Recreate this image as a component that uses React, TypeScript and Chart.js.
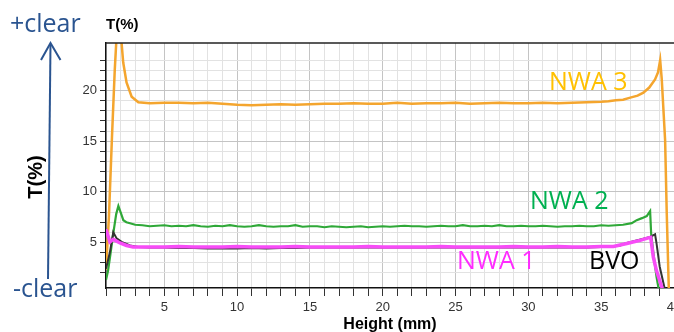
import React, { useEffect, useRef } from "react";
import { Chart, registerables } from "chart.js";

Chart.register(...registerables);

// ---- Data ----
const xTickLabels = [5, 10, 15, 20, 25, 30, 35, 40];
const yTickLabels = [5, 10, 15, 20];

const nwa3X = [1.0, 1.2, 1.41, 1.6, 1.75, 1.9, 2.07, 2.18, 2.41, 2.76, 3.22, 4, 5, 6, 7, 8, 9, 10, 11, 12, 13, 14, 15, 16, 17, 18, 19, 20, 21, 22, 23, 24, 25, 26, 27, 28, 29, 30, 31, 32, 33, 34, 35, 35.5, 36, 36.5, 37, 37.5, 37.9, 38.3, 38.7, 38.9, 39.05, 39.16, 39.39, 39.5, 39.65];
const nwa3Y = [2.3, 7.5, 15.4, 22.0, 26.0, 26.4, 24.7, 22.8, 20.8, 19.4, 18.85, 18.75, 18.8, 18.8, 18.75, 18.8, 18.7, 18.6, 18.55, 18.6, 18.65, 18.6, 18.65, 18.7, 18.7, 18.75, 18.7, 18.7, 18.8, 18.7, 18.75, 18.75, 18.8, 18.7, 18.75, 18.8, 18.75, 18.75, 18.8, 18.75, 18.8, 18.85, 18.9, 18.95, 19.05, 19.1, 19.3, 19.5, 19.8, 20.3, 21.1, 21.8, 23.0, 21.1, 15.1, 8.0, 0.0];

const nwa2X = [1.0, 1.14, 1.3, 1.5, 1.7, 1.85, 2.0, 2.19, 2.4, 2.65, 3.0, 3.5, 4, 4.5, 5, 5.5, 6, 6.5, 7, 7.5, 8, 8.5, 9, 9.5, 10, 10.5, 11, 11.5, 12, 12.5, 13, 13.5, 14, 14.5, 15, 15.5, 16, 16.5, 17, 17.5, 18, 18.5, 19, 19.5, 20, 20.5, 21, 21.5, 22, 22.5, 23, 23.5, 24, 24.5, 25, 25.5, 26, 26.5, 27, 27.5, 28, 28.5, 29, 29.5, 30, 30.5, 31, 31.5, 32, 32.5, 33, 33.5, 34, 34.5, 35, 35.5, 36, 36.5, 37.1, 37.44, 37.8, 38.13, 38.36, 38.43, 38.59, 38.8, 38.94, 39.1];
const nwa2Y = [1.3, 2.2, 3.8, 5.9, 7.8, 8.6, 8.0, 7.2, 7.0, 6.9, 6.75, 6.7, 6.6, 6.65, 6.7, 6.6, 6.65, 6.6, 6.7, 6.6, 6.55, 6.65, 6.6, 6.7, 6.6, 6.55, 6.6, 6.7, 6.6, 6.55, 6.6, 6.6, 6.7, 6.55, 6.6, 6.6, 6.5, 6.6, 6.55, 6.5, 6.55, 6.6, 6.5, 6.55, 6.6, 6.55, 6.6, 6.65, 6.6, 6.6, 6.55, 6.6, 6.65, 6.6, 6.6, 6.7, 6.6, 6.6, 6.65, 6.6, 6.7, 6.6, 6.6, 6.65, 6.6, 6.6, 6.65, 6.6, 6.55, 6.6, 6.6, 6.65, 6.6, 6.6, 6.7, 6.65, 6.7, 6.75, 6.9, 7.2, 7.4, 7.6, 8.1, 5.9, 3.9, 1.6, 0.45, 0.0];

const bvoX = [1.0, 1.27, 1.5, 1.73, 2.07, 2.65, 3.2, 4, 5, 6, 7, 8, 9, 10, 11, 12, 13, 14, 15, 16, 17, 18, 19, 20, 21, 22, 23, 24, 25, 26, 27, 28, 29, 30, 31, 32, 33, 34, 35, 35.8, 36.3, 36.76, 37.7, 38.36, 38.7, 38.8, 39.02, 39.36, 39.5];
const bvoY = [2.4, 4.05, 6.0, 5.4, 5.05, 4.7, 4.55, 4.5, 4.5, 4.45, 4.45, 4.4, 4.4, 4.4, 4.45, 4.4, 4.45, 4.45, 4.5, 4.5, 4.5, 4.5, 4.5, 4.5, 4.5, 4.5, 4.5, 4.5, 4.5, 4.5, 4.5, 4.5, 4.5, 4.5, 4.5, 4.5, 4.5, 4.5, 4.55, 4.6, 4.7, 4.95, 5.3, 5.55, 5.8, 4.9, 2.6, 0.45, 0.0];

const nwa1X = [1.0, 1.27, 1.5, 1.96, 2.41, 2.86, 3.5, 4, 5, 6, 7, 8, 9, 10, 11, 12, 13, 14, 15, 16, 17, 18, 19, 20, 21, 22, 23, 24, 25, 26, 27, 28, 29, 30, 31, 32, 33, 34, 35, 35.84, 36.76, 37.67, 38.24, 38.4, 38.58, 38.8, 39.16, 39.3];
const nwa1Y = [6.3, 5.05, 5.3, 4.95, 4.7, 4.55, 4.55, 4.55, 4.55, 4.6, 4.55, 4.55, 4.55, 4.6, 4.55, 4.55, 4.55, 4.6, 4.55, 4.55, 4.55, 4.55, 4.6, 4.55, 4.55, 4.55, 4.55, 4.6, 4.55, 4.55, 4.55, 4.55, 4.6, 4.55, 4.55, 4.6, 4.55, 4.55, 4.6, 4.6, 4.9, 5.2, 5.45, 5.5, 3.55, 2.2, 0.6, 0.0];

const seriesNames = ["NWA 3", "NWA 2", "BVO", "NWA 1"];

const toPts = (xs: number[], ys: number[]) => xs.map((x, i) => ({ x, y: ys[i] }));

const annotationPlugin = {
  id: "annotations",
  afterDraw(chart: any) {
    const { ctx, chartArea } = chart;
    ctx.save();
    // top border
    ctx.strokeStyle = "#222";
    ctx.lineWidth = 1.5;
    ctx.beginPath();
    ctx.moveTo(chartArea.left, chartArea.top);
    ctx.lineTo(chartArea.right, chartArea.top);
    ctx.stroke();

    // axis titles
    ctx.fillStyle = "#000";
    ctx.font = "bold 15px 'Liberation Sans', Arial, sans-serif";
    ctx.textAlign = "left";
    ctx.textBaseline = "middle";
    ctx.fillText("T(%)", 106, 25);
    ctx.font = "bold 16px 'Liberation Sans', Arial, sans-serif";
    ctx.textAlign = "center";
    ctx.textBaseline = "alphabetic";
    ctx.fillText("Height (mm)", 390, 329);
    ctx.save();
    ctx.translate(36, 177);
    ctx.rotate(-Math.PI / 2);
    ctx.font = "bold 20px 'Liberation Sans', Arial, sans-serif";
    ctx.textAlign = "center";
    ctx.textBaseline = "middle";
    ctx.fillText("T(%)", 0, 0);
    ctx.restore();

    // series labels
    ctx.textAlign = "left";
    ctx.textBaseline = "alphabetic";
    ctx.font = "25px 'Open Sans', sans-serif";
    ctx.fillStyle = "#FFC000";
    ctx.fillText(seriesNames[0], 549, 90);
    ctx.fillStyle = "#00B050";
    ctx.fillText(seriesNames[1], 530, 209);
    ctx.fillStyle = "#000";
    ctx.fillText(seriesNames[2], 589, 269);
    ctx.fillStyle = "#FF2BFF";
    ctx.fillText(seriesNames[3], 457, 269);

    // +clear / -clear with arrow
    const blue = "#2A5490";
    ctx.fillStyle = blue;
    ctx.font = "25px 'Open Sans', sans-serif";
    ctx.fillText("+clear", 10, 32);
    ctx.fillText("-clear", 13, 297);
    ctx.strokeStyle = blue;
    ctx.lineWidth = 2;
    ctx.beginPath();
    ctx.moveTo(48, 279);
    ctx.lineTo(50.5, 44);
    ctx.stroke();
    ctx.beginPath();
    ctx.moveTo(41, 60);
    ctx.lineTo(50.5, 43);
    ctx.lineTo(60.5, 60);
    ctx.stroke();
    ctx.restore();
  },
};

export default function App() {
  const ref = useRef<HTMLCanvasElement | null>(null);

  useEffect(() => {
    if (!ref.current) return;
    const gridColor = (c: any) =>
      c.tick && c.tick.value % 5 === 0 ? "#c4c4c4" : "#e2e2e2";
    const chart = new Chart(ref.current, {
      type: "line",
      data: {
        datasets: [
          { label: seriesNames[0], data: toPts(nwa3X, nwa3Y), borderColor: "#F4A52E", borderWidth: 2.5, order: 3 },
          { label: seriesNames[1], data: toPts(nwa2X, nwa2Y), borderColor: "#2FA838", borderWidth: 2.2, order: 2 },
          { label: seriesNames[2], data: toPts(bvoX, bvoY), borderColor: "#333333", borderWidth: 2, order: 1 },
          { label: seriesNames[3], data: toPts(nwa1X, nwa1Y), borderColor: "#F74CF7", borderWidth: 3.5, order: 0 },
        ].map((d) => ({ ...d, pointRadius: 0, tension: 0, fill: false })),
      },
      options: {
        responsive: false,
        animation: false,
        devicePixelRatio: 1,
        layout: { padding: { left: 0, top: 43, right: 26, bottom: 0 } },
        plugins: { legend: { display: false }, tooltip: { enabled: false } },
        scales: {
          x: {
            type: "linear",
            min: 1,
            max: 40,
            afterFit: (s: any) => { s.height = 44; },
            afterBuildTicks: (s: any) => { s.ticks = s.ticks.filter((t: any) => Number.isInteger(t.value)); },
            ticks: {
              stepSize: 1,
              autoSkip: false,
              maxRotation: 0,
              padding: 4,
              color: "#333",
              font: { family: "'Liberation Sans', Arial, sans-serif", size: 13 },
              callback: (v: any) => (xTickLabels.includes(Number(v)) ? String(v) : ""),
            },
            grid: { color: gridColor, tickLength: 8, tickColor: "#333", lineWidth: 1 },
            border: { display: true, color: "#111", width: 1.5 },
          },
          y: {
            type: "linear",
            min: 0.5,
            max: 24.7,
            afterFit: (s: any) => { s.width = 106; },
            afterBuildTicks: (s: any) => { s.ticks = s.ticks.filter((t: any) => Number.isInteger(t.value)); },
            ticks: {
              stepSize: 1,
              autoSkip: false,
              padding: 3,
              color: "#333",
              font: { family: "'Liberation Sans', Arial, sans-serif", size: 13 },
              callback: (v: any) => (yTickLabels.includes(Number(v)) ? String(v) : ""),
            },
            grid: { color: gridColor, tickLength: 6, tickColor: "#333", lineWidth: 1 },
            border: { display: true, color: "#111", width: 1.5 },
          },
        },
      },
      plugins: [annotationPlugin],
    } as any);
    return () => chart.destroy();
  }, []);

  return (
    <div style={{ position: "fixed", left: 0, top: 0, width: 674, height: 332, overflow: "hidden", background: "#fff" }}>
      <canvas ref={ref} width={700} height={332} style={{ width: 700, height: 332, display: "block" }} />
    </div>
  );
}
